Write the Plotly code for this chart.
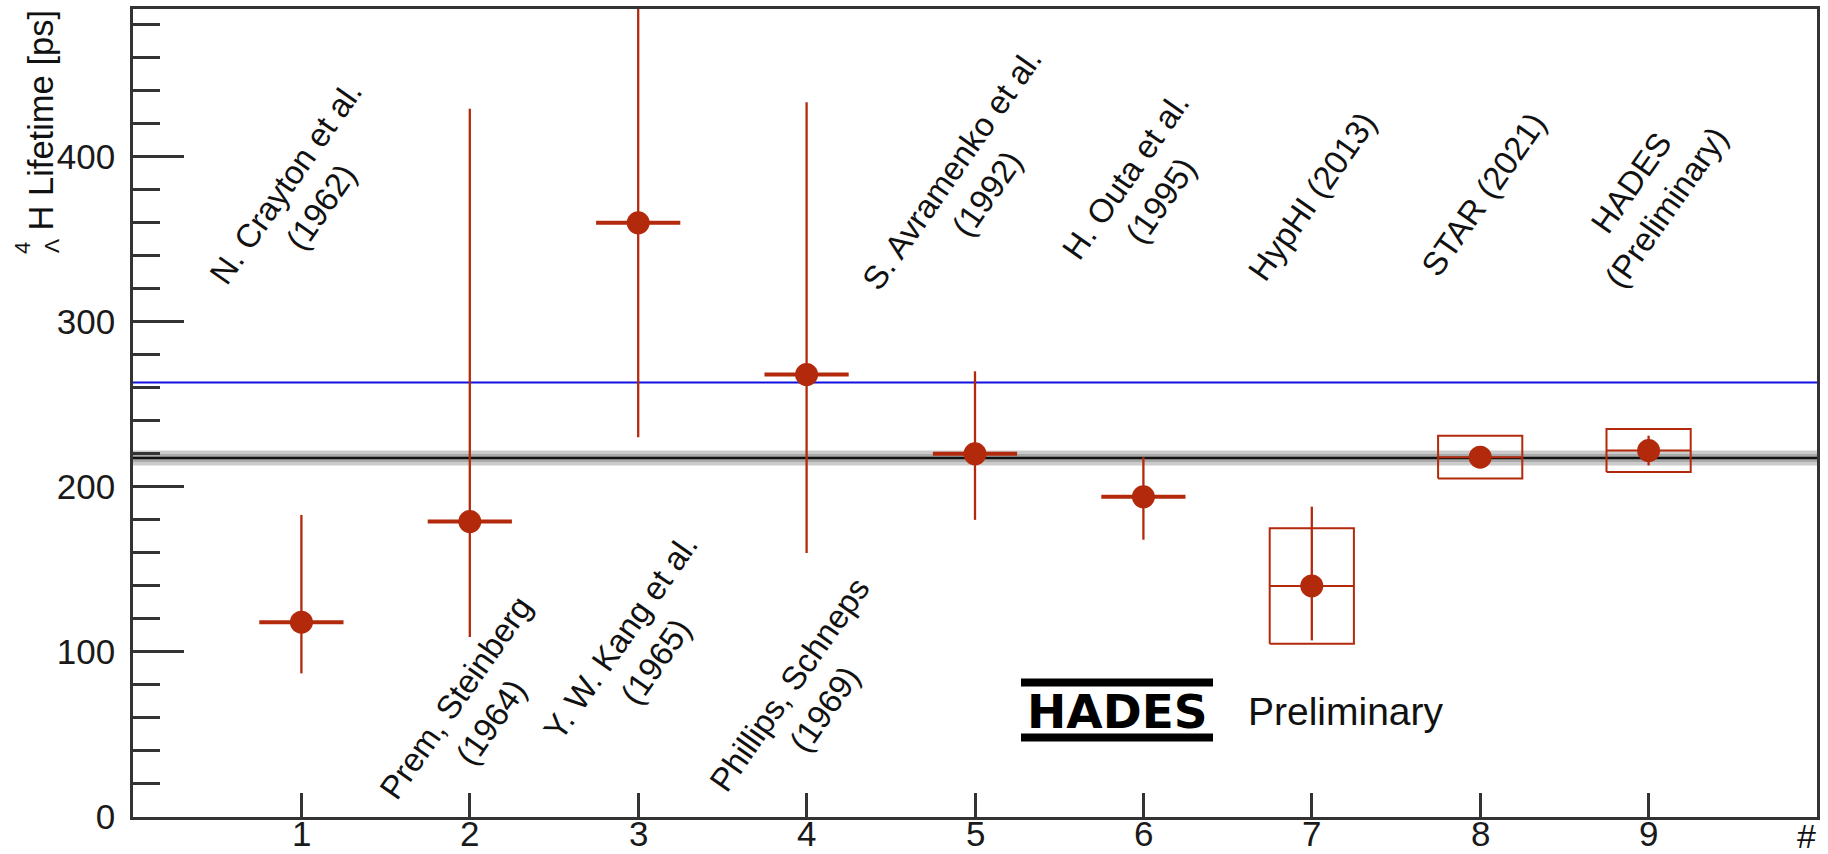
import plotly.graph_objects as go

# ---- data -------------------------------------------------------------
experiments = [
    "N. Crayton et al.<br>(1962)",
    "Prem, Steinberg<br>(1964)",
    "Y. W. Kang et al.<br>(1965)",
    "Phillips, Schneps<br>(1969)",
    "S. Avramenko et al.<br>(1992)",
    "H. Outa et al.<br>(1995)",
    "HypHI (2013)",
    "STAR (2021)",
    "HADES<br>(Preliminary)",
]
index = [1, 2, 3, 4, 5, 6, 7, 8, 9]
lifetime = [118, 179, 360, 268, 220, 194, 140, 218, 222]      # ps
stat_up = [65, 250, 190, 165, 50, 24, 48, 6, 9]
stat_down = [31, 70, 130, 108, 40, 26, 33, 6, 9]
syst = [None, None, None, None, None, None, 35, 13, 13]
bin_half_width = 0.25

free_lambda = 263.2          # free Λ lifetime
average = 217.5              # average of the measurements
average_err_outer = 4.6
average_err_inner = 2.4

y_ticks = [0, 100, 200, 300, 400]
x_ticks = [1, 2, 3, 4, 5, 6, 7, 8, 9]

# ---- layout constants --------------------------------------------------
W, H = 1828, 854
L, R, T, B = 133, 11, 9, 37
PW, PH = W - L - R, H - T - B
RED = "#b3290c"
FONT = "Liberation Sans"
TICK_FONT = dict(family=FONT, size=35, color="#1a1a1a")

label_x = [1.01, 2.02, 3.0, 4.0, 4.97, 6.0, 7.0, 8.02, 9.0]
label_y = [377, 65, 102, 73, 385, 381, 376, 377, 377]


def px(p):
    return (p - L) / PW


def py(p):
    return (T + PH - p) / PH


fig = go.Figure()

# average band and lines
fig.add_trace(go.Scatter(
    x=[0, 10, 10, 0],
    y=[average - average_err_outer] * 2 + [average + average_err_outer] * 2,
    fill="toself", fillcolor="#cbcbcb", line=dict(width=0), mode="lines",
    hoverinfo="skip", showlegend=False))
fig.add_trace(go.Scatter(
    x=[0, 10, 10, 0],
    y=[average - average_err_inner] * 2 + [average + average_err_inner] * 2,
    fill="toself", fillcolor="#a9a9a9", line=dict(width=0), mode="lines",
    hoverinfo="skip", showlegend=False))
fig.add_trace(go.Scatter(x=[0, 10], y=[average, average], mode="lines",
                         line=dict(color="#111111", width=2.5), showlegend=False))
fig.add_trace(go.Scatter(x=[0, 10], y=[free_lambda, free_lambda], mode="lines",
                         line=dict(color="#1010e0", width=2), showlegend=False))

# systematic boxes
for xi, yi, si in zip(index, lifetime, syst):
    if si is None:
        continue
    fig.add_trace(go.Scatter(
        x=[xi - bin_half_width, xi + bin_half_width, xi + bin_half_width,
           xi - bin_half_width, xi - bin_half_width],
        y=[yi - si, yi - si, yi + si, yi + si, yi - si],
        mode="lines", line=dict(color=RED, width=2), showlegend=False))

# measurements: older ones (thick x bars) and recent ones (thin x bars)
n_old = 6
fig.add_trace(go.Scatter(
    x=index[:n_old], y=lifetime[:n_old], mode="markers",
    marker=dict(color=RED, size=23),
    error_y=dict(type="data", symmetric=False, array=stat_up[:n_old],
                 arrayminus=stat_down[:n_old], color=RED, thickness=2.3, width=0),
    error_x=dict(type="constant", value=bin_half_width, color=RED,
                 thickness=4, width=0),
    showlegend=False))
fig.add_trace(go.Scatter(
    x=index[n_old:], y=lifetime[n_old:], mode="markers",
    marker=dict(color=RED, size=23),
    error_y=dict(type="data", symmetric=False, array=stat_up[n_old:],
                 arrayminus=stat_down[n_old:], color=RED, thickness=2.3, width=0),
    error_x=dict(type="constant", value=bin_half_width, color=RED,
                 thickness=2, width=0),
    showlegend=False))

annotations = []
for xi, yi, txt in zip(label_x, label_y, experiments):
    annotations.append(dict(
        x=xi, y=yi, xref="x", yref="y", text=txt, showarrow=False,
        textangle=-55, align="center", xanchor="center", yanchor="middle",
        font=dict(family=FONT, size=33, color="#111111")))

# x tick labels, set just under the axis
for xv in x_ticks:
    annotations.append(dict(
        x=xv, y=py(834), xref="x", yref="paper", text=str(xv), showarrow=False,
        xanchor="center", yanchor="middle", borderpad=0, font=TICK_FONT))

# y-axis title with stacked pre-scripts
annotations += [
    dict(x=px(40), y=py(8), xref="paper", yref="paper", text="H Lifetime [ps]",
         textangle=-90, showarrow=False, xanchor="center", yanchor="top",
         font=dict(family=FONT, size=34.5, color="#111111")),
    dict(x=px(22), y=py(248), xref="paper", yref="paper", text="4",
         textangle=-90, showarrow=False, xanchor="center", yanchor="middle",
         font=dict(family=FONT, size=22, color="#111111")),
    dict(x=px(51), y=py(246), xref="paper", yref="paper", text="Λ",
         textangle=-90, showarrow=False, xanchor="center", yanchor="middle",
         font=dict(family=FONT, size=21, color="#111111")),
    # x-axis title
    dict(x=1.0, y=py(836), xref="paper", yref="paper", text="#",
         showarrow=False, xanchor="right", yanchor="middle", borderpad=0,
         font=dict(family=FONT, size=34, color="#111111")),
    # experiment logo and tag
    dict(x=px(1117), y=py(711), xref="paper", yref="paper", text="<b>HADES</b>",
         showarrow=False, xanchor="center", yanchor="middle",
         font=dict(family="DejaVu Sans", size=47, color="#000000")),
    dict(x=px(1346), y=py(711), xref="paper", yref="paper", text="Preliminary",
         showarrow=False, xanchor="center", yanchor="middle",
         font=dict(family=FONT, size=39, color="#111111")),
]

shapes = [
    dict(type="rect", xref="paper", yref="paper", x0=px(1021), x1=px(1213),
         y0=py(686.5), y1=py(678.5), fillcolor="#000000", line=dict(width=0)),
    dict(type="rect", xref="paper", yref="paper", x0=px(1021), x1=px(1213),
         y0=py(741.5), y1=py(733.5), fillcolor="#000000", line=dict(width=0)),
]

axis_common = dict(showgrid=False, zeroline=False, showline=True, mirror=True,
                   linecolor="#333333", linewidth=2.5, ticks="inside",
                   tickcolor="#333333", tickwidth=2.5, automargin=False,
                   tickfont=TICK_FONT)

fig.update_layout(
    width=W, height=H,
    margin=dict(l=L, r=R, t=T, b=B, pad=0, autoexpand=False),
    paper_bgcolor="white", plot_bgcolor="white",
    xaxis=dict(range=[0, 10], tickmode="array", tickvals=x_ticks,
               showticklabels=False, ticklen=24, **axis_common),
    yaxis=dict(range=[0, 489.5], tickmode="array", tickvals=y_ticks,
               ticktext=[str(v) for v in y_ticks], ticklen=51,
               ticklabelstandoff=8,
               minor=dict(dtick=20, ticks="inside", ticklen=27,
                          tickcolor="#333333", tickwidth=2.5, showgrid=False),
               **axis_common),
    annotations=annotations,
    shapes=shapes,
    showlegend=False,
)

fig.write_html("out.html")
